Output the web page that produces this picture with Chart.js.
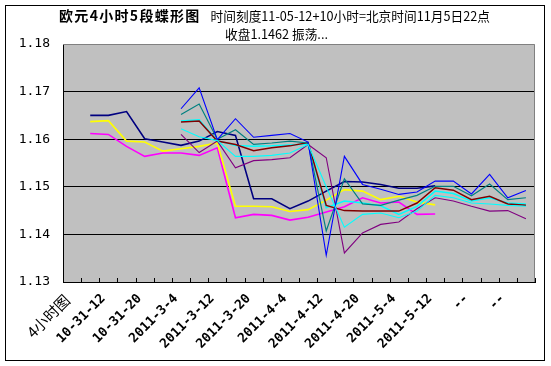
<!DOCTYPE html>
<html>
<head>
<meta charset="utf-8">
<script src="https://cdn.jsdelivr.net/npm/chart.js@4.4.1/dist/chart.umd.min.js"></script>
<style>
  html, body { margin: 0; padding: 0; background: #fff; }
  canvas { display: block; }
</style>
</head>
<body>
<canvas id="myChart" width="551" height="366"></canvas>
<script>
// 欧元4小时5段蝶形图 - values

const tickLabels = ["4小时图", "10-31-12", "10-31-20", "2011-3-4", "2011-3-12", "2011-3-20",
  "2011-4-4", "2011-4-12", "2011-4-20", "2011-5-4", "2011-5-12", "--", "--"];

const yTicks = [1.13, 1.14, 1.15, 1.16, 1.17, 1.18];

// segment 1 (starts at the 2nd category)
const navyLine = [null, 1.1650, 1.1650, 1.1658, 1.1601, 1.1594, 1.1587, 1.1596, 1.1616, 1.1608, 1.1475, 1.1475, 1.1454,
  1.1470, 1.1491, 1.1511, 1.1510, 1.1505, 1.1497, 1.1497, 1.1502, null, null, null, null, null];
const magentaLine = [null, 1.1612, 1.1610, 1.1585, 1.1564, 1.1571, 1.1571, 1.1566, 1.1582, 1.1435, 1.1442, 1.1440, 1.1430,
  1.1436, 1.1447, 1.1458, 1.1477, 1.1466, 1.1468, 1.1442, 1.1443, null, null, null, null, null];
const yellowLine = [null, 1.1637, 1.1639, 1.1596, 1.1594, 1.1575, 1.1580, 1.1585, 1.1592, 1.1459, 1.1459, 1.1458, 1.1448,
  1.1452, 1.1472, 1.1494, 1.1491, 1.1473, 1.1480, 1.1468, 1.1462, null, null, null, null, null];

// segment 2 (starts at the 7th category)
const cyanLine = [null, null, null, null, null, null, 1.1638, 1.1641, 1.1597, 1.1587, 1.1585, 1.1586, 1.1588,
  1.1590, 1.1456, 1.1470, 1.1466, 1.1460, 1.1442, 1.1459, 1.1491, 1.1486, 1.1470, 1.1477, 1.1466, 1.1464];
const purpleLine = [null, null, null, null, null, null, 1.1610, 1.1572, 1.1596, 1.1540, 1.1555, 1.1557, 1.1561,
  1.1589, 1.1561, 1.1361, 1.1403, 1.1421, 1.1426, 1.1454, 1.1477, 1.1470, 1.1459, 1.1449, 1.1450, 1.1433];
const darkRedLine = [null, null, null, null, null, null, 1.1636, 1.1638, 1.1596, 1.1589, 1.1576, 1.1582, 1.1586,
  1.1593, 1.1461, 1.1450, 1.1449, 1.1449, 1.1449, 1.1466, 1.1498, 1.1493, 1.1473, 1.1480, 1.1464, 1.1461];
const tealLine = [null, null, null, null, null, null, 1.1652, 1.1674, 1.1600, 1.1620, 1.1589, 1.1592, 1.1596,
  1.1592, 1.1407, 1.1517, 1.1464, 1.1461, 1.1472, 1.1482, 1.1501, 1.1501, 1.1481, 1.1506, 1.1473, 1.1477];
const blueLine = [null, null, null, null, null, null, 1.1664, 1.1708, 1.1599, 1.1643, 1.1604, 1.1608, 1.1612,
  1.1594, 1.1356, 1.1564, 1.1505, 1.1495, 1.1484, 1.1489, 1.1512, 1.1512, 1.1485, 1.1526, 1.1477, 1.1492];
const cyan2Line = [null, null, null, null, null, null, 1.1622, 1.1605, 1.1597, 1.1564, 1.1564, 1.1566, 1.1571,
  1.1589, 1.1500, 1.1415, 1.1442, 1.1445, 1.1435, 1.1449, 1.1482, 1.1477, 1.1466, 1.1464, 1.1461, 1.1459];

// 26 categories, only every other one is labelled
const categories = [];
for (let i = 0; i < 26; i++) {
  categories.push(i % 2 === 0 ? tickLabels[i / 2] : "");
}

const series = [
  { data: navyLine, color: "#000080", width: 1.6 },
  { data: magentaLine, color: "#FF00FF", width: 1.6 },
  { data: yellowLine, color: "#FFFF00", width: 1.6 },
  { data: cyanLine, color: "#00FFFF", width: 1.5 },
  { data: purpleLine, color: "#800080", width: 1.1 },
  { data: darkRedLine, color: "#800000", width: 1.5 },
  { data: tealLine, color: "#008080", width: 1.2 },
  { data: blueLine, color: "#0000FF", width: 1.1 },
  { data: cyan2Line, color: "#00FFFF", width: 1.1 },
];

// excel-like frame, grey plot area, inner tick marks and the two-part title
const excelLook = {
  id: "excelLook",
  beforeDraw(chart) {
    const { ctx, chartArea: a } = chart;
    ctx.save();
    ctx.fillStyle = "#fff";
    ctx.fillRect(0, 0, chart.width, chart.height);
    ctx.strokeStyle = "#000";
    ctx.lineWidth = 1;
    ctx.strokeRect(5.5, 5.5, 539, 355);
    ctx.fillStyle = "#C0C0C0";
    ctx.fillRect(a.left, a.top, a.right - a.left, a.bottom - a.top);
    ctx.restore();
  },
  beforeDatasetsDraw(chart) {
    const { ctx, chartArea: a } = chart;
    const xs = chart.scales.x;
    ctx.save();
    ctx.strokeStyle = "#808080";
    ctx.lineWidth = 1;
    ctx.beginPath();
    ctx.moveTo(a.left, a.top + 0.5);
    ctx.lineTo(a.right - 0.5, a.top + 0.5);
    ctx.lineTo(a.right - 0.5, a.bottom);
    ctx.stroke();
    // tick marks between categories, pointing into the plot
    const step = xs.getPixelForValue(1) - xs.getPixelForValue(0);
    ctx.strokeStyle = "#000";
    ctx.beginPath();
    for (let i = 0; i <= categories.length; i++) {
      const x = Math.round(xs.getPixelForValue(i) - step / 2) + 0.5;
      ctx.moveTo(x, a.bottom - 4);
      ctx.lineTo(x, a.bottom);
    }
    ctx.stroke();
    ctx.restore();
  },
  afterDraw(chart) {
    const ctx = chart.ctx;
    const cx = 274.5;
    const boldText = "欧元4小时5段蝶形图";
    const normText = "时间刻度11-05-12+10小时=北京时间11月5日22点";
    ctx.save();
    ctx.fillStyle = "#000";
    ctx.textBaseline = "middle";
    ctx.textAlign = "left";
    ctx.font = "bold 14px 'Noto Sans CJK SC'";
    ctx.letterSpacing = "1.3px";
    const bw = ctx.measureText(boldText).width;
    ctx.letterSpacing = "0px";
    ctx.font = "12.7px 'Noto Sans CJK SC'";
    const nw = ctx.measureText(normText).width;
    const gap = 10;
    let x = cx - (bw + gap + nw) / 2;
    ctx.font = "bold 14px 'Noto Sans CJK SC'";
    ctx.letterSpacing = "1.3px";
    ctx.fillText(boldText, x, 16);
    ctx.letterSpacing = "0px";
    ctx.font = "12.7px 'Noto Sans CJK SC'";
    ctx.fillText(normText, x + bw + gap, 16);
    ctx.textAlign = "center";
    ctx.fillText("收盘1.1462 振荡...", cx + 2, 34);
    ctx.restore();
  }
};

const myChart = new Chart("myChart", {
  type: "line",
  data: {
    labels: categories,
    datasets: series.map((s, i) => ({
      data: s.data,
      borderColor: s.color,
      borderWidth: s.width,
      pointRadius: 0,
      tension: 0,
      spanGaps: false,
      fill: false,
      order: series.length - i,
    })),
  },
  options: {
    responsive: false,
    animation: false,
    devicePixelRatio: 1,
    layout: { padding: { top: 44, right: 16, bottom: 0, left: 0 } },
    plugins: {
      legend: { display: false },
      tooltip: { enabled: false },
      title: { display: false },
    },
    scales: {
      x: {
        type: "category",
        offset: true,
        grid: { display: true, drawOnChartArea: false, drawTicks: false, offset: true },
        border: { color: "#000", width: 1 },
        ticks: {
          autoSkip: false,
          maxRotation: 45,
          minRotation: 45,
          padding: 9,
          labelOffset: -5,
          color: "#000",
          font: (ctx) => ctx.index === 0
            ? { family: "'Noto Sans CJK SC'", size: 15, weight: "normal" }
            : { family: "'DejaVu Sans Mono'", size: 13, weight: "bold" },
        },
        afterFit: (s) => { s.height = 84; },
      },
      y: {
        min: yTicks[0],
        max: yTicks[yTicks.length - 1],
        afterBuildTicks: (s) => { s.ticks = yTicks.map((v) => ({ value: v })); },
        grid: {
          drawTicks: false,
          lineWidth: 1,
          color: (ctx) => (ctx.index === 0 || ctx.index === yTicks.length - 1) ? "rgba(0,0,0,0)" : "#000",
        },
        border: { color: "#000", width: 1 },
        ticks: {
          padding: 13,
          color: "#000",
          font: { family: "'DejaVu Sans Mono'", size: 13 },
          callback: (v) => Number(v).toFixed(2),
        },
        afterFit: (s) => { s.width = 63; },
      },
    },
  },
  plugins: [excelLook],
});
</script>
</body>
</html>
